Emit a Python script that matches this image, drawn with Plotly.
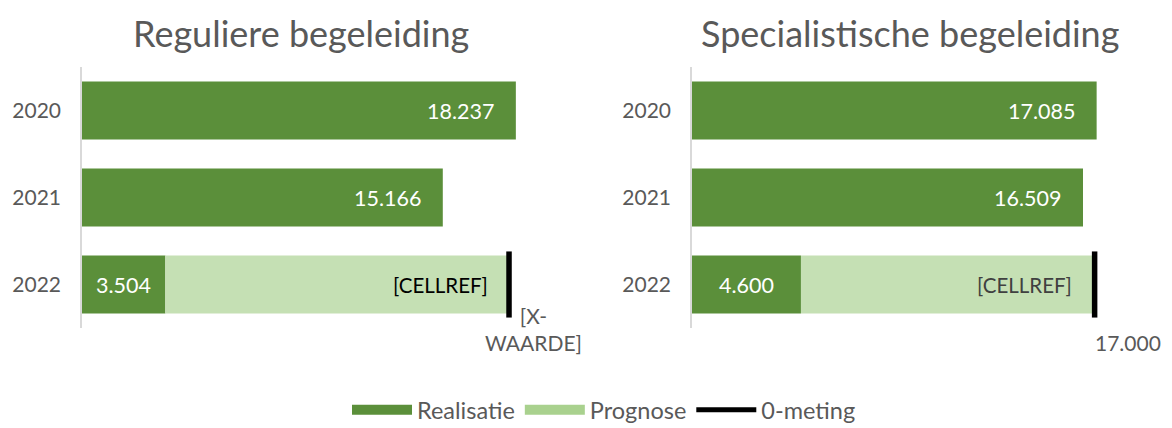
import plotly.graph_objects as go

# data
years = ['2020', '2021', '2022']
titles = ['Reguliere begeleiding', 'Specialistische begeleiding']

reg_realisatie = [18237, 15166, 3504]
reg_prognose = [None, None, 14396]      # 2022 prognose bovenop realisatie
reg_nulmeting = 17950
reg_nulmeting_label = '[X-<br>WAARDE]'

spec_realisatie = [17085, 16509, 4600]
spec_prognose = [None, None, 12300]
spec_nulmeting = 17000
spec_nulmeting_label = '17.000'

prognose_label = '[CELLREF]'

DARK = '#5B8F3A'
LIGHT = '#C5E0B4'
LIGHT_LEGEND = '#A9D18E'
TXT = '#595959'
FONT = 'Lato, Carlito, Calibri, sans-serif'

# the html page puts an 8px body margin round the figure
OFF = 8
W, H = 1172 - OFF, 428 - OFF
TOP, BOT = 67 - OFF, 100
plot_h = H - TOP - BOT


def px(x):
    return (x - OFF) / W


def fmt(v):
    return f'{v:,}'.replace(',', '.')


fig = go.Figure()
ypos = list(range(len(years)))
annotations = []

panels = [
    (reg_realisatie, reg_prognose, reg_nulmeting, reg_nulmeting_label, 'x', 'y', '#000000', 24),
    (spec_realisatie, spec_prognose, spec_nulmeting, spec_nulmeting_label, 'x2', 'y2', '#404040', 33),
]

for real, prog, nul, nul_label, xa, ya, prog_col, lab_dx in panels:
    fig.add_trace(go.Bar(
        x=real, y=ypos, orientation='h', width=0.667,
        marker=dict(color=DARK, line=dict(width=0)),
        showlegend=False, xaxis=xa, yaxis=ya, hoverinfo='x',
    ))
    fig.add_trace(go.Bar(
        x=prog, y=ypos, base=real, orientation='h', width=0.667,
        marker=dict(color=LIGHT, line=dict(width=0)),
        showlegend=False, xaxis=xa, yaxis=ya, hoverinfo='x',
    ))
    # 0-meting marker on the 2022 bar
    fig.add_trace(go.Scatter(
        x=[nul, nul], y=[ypos[-1] - 0.38, ypos[-1] + 0.38],
        mode='lines', line=dict(color='black', width=5.5),
        showlegend=False, xaxis=xa, yaxis=ya, hoverinfo='skip',
    ))

    # value labels
    for i, v in enumerate(real):
        if prog[i] is None:
            annotations.append(dict(
                x=v, y=ypos[i], xref=xa, yref=ya, text=fmt(v),
                showarrow=False, xanchor='right', xshift=-20,
                font=dict(color='white', size=21.5, family=FONT)))
        else:
            annotations.append(dict(
                x=v / 2, y=ypos[i], xref=xa, yref=ya, text=fmt(v),
                showarrow=False, xanchor='center',
                font=dict(color='white', size=21.5, family=FONT)))
            annotations.append(dict(
                x=v + prog[i], y=ypos[i], xref=xa, yref=ya, text=prognose_label,
                showarrow=False, xanchor='right', xshift=-18,
                font=dict(color=prog_col, size=20.5, family=FONT)))

    annotations.append(dict(
        x=nul, y=2.5, xref=xa, yref=ya, text=nul_label,
        showarrow=False, xanchor='center', yanchor='bottom',
        xshift=lab_dx, yshift=-29,
        font=dict(color=TXT, size=21, family=FONT)))

# legend entries
for name, col, w in [('Realisatie', DARK, 14), ('Prognose', LIGHT_LEGEND, 14), ('0-meting', 'black', 5)]:
    fig.add_trace(go.Scatter(x=[None], y=[None], mode='lines', name=name,
                             line=dict(color=col, width=w)))

for title, xc in zip(titles, [301, 910]):
    annotations.append(dict(
        x=px(xc), y=1 + (TOP - (33 - OFF)) / plot_h, xref='paper', yref='paper',
        text=title, showarrow=False, xanchor='center', yanchor='middle',
        font=dict(color=TXT, size=36, family=FONT)))

axis_x = dict(range=[0, 19000], showgrid=False, zeroline=False,
              showticklabels=False, showline=False, fixedrange=True)
axis_y = dict(range=[2.5, -0.5], tickvals=ypos, ticktext=years,
              showgrid=False, zeroline=False, showline=True,
              linecolor='#D9D9D9', linewidth=1.5, ticks='',
              ticklabelstandoff=15,
              tickfont=dict(color=TXT, size=21, family=FONT))

fig.update_layout(
    width=W, height=H,
    margin=dict(l=0, r=0, t=TOP, b=BOT),
    paper_bgcolor='white', plot_bgcolor='white',
    barmode='overlay',
    xaxis=dict(axis_x, domain=[px(82), px(534)], anchor='y'),
    yaxis=dict(axis_y, anchor='x'),
    xaxis2=dict(axis_x, domain=[px(692), px(1142)], anchor='y2'),
    yaxis2=dict(axis_y, anchor='x2'),
    annotations=annotations,
    legend=dict(orientation='h', x=px(604), xanchor='center',
                yref='container', y=1 - (410 - OFF) / H, yanchor='middle',
                font=dict(color=TXT, size=23.5, family=FONT),
                itemwidth=60, bgcolor='rgba(0,0,0,0)'),
    font=dict(family=FONT, color=TXT),
)

fig.write_html('out.html')
